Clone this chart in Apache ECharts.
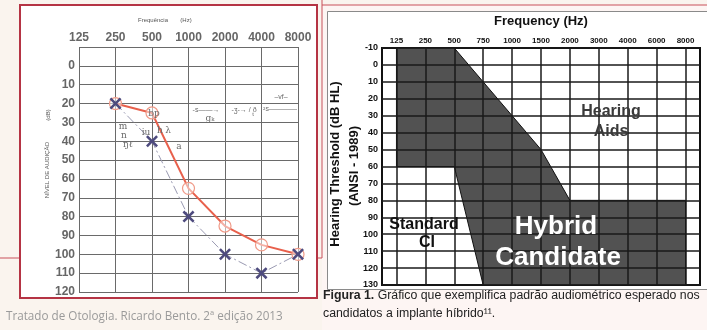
<!DOCTYPE html>
<html><head><meta charset="utf-8">
<script src="https://cdn.jsdelivr.net/npm/echarts@6/dist/echarts.min.js"></script>
<style>html,body{margin:0;padding:0;background:#faf4ee}#c{width:707px;height:330px}</style>
</head><body><div id="c"></div>
<script>
// ---- Left audiogram (Tratado de Otologia) ----
const leftFreqs = ['125', '250', '500', '1000', '2000', '4000', '8000'];
const rightEarDb = ['-', 20, 25, 65, 85, 95, 100];   // red circles
const leftEarDb  = ['-', 20, 40, 80, 100, 110, 100]; // blue X
// ---- Right chart (Hybrid candidate) ----
const rightFreqs = ['125', '250', '500', '750', '1000', '1500', '2000', '3000', '4000', '6000', '8000'];
const regionFreq = ['125', '500', '1500', '2000', '8000', '8000', '750', '500', '125'];
const regionDb   = [-10, -10, 50, 80, 80, 130, 130, 60, 60];

const chart = echarts.init(document.getElementById('c'), null, {renderer: 'canvas'});
const F = 'Liberation Sans, Arial, sans-serif';
const xSym = 'path://M0,1.5L1.5,0L5,3.5L8.5,0L10,1.5L6.5,5L10,8.5L8.5,10L5,6.5L1.5,10L0,8.5L3.5,5Z';

function txt(x, y, text, font, fill, extra) {
  return Object.assign({
    type: 'text', x: x, y: y, z: 20, silent: true,
    style: {text: text, font: font, fill: fill, align: 'center', verticalAlign: 'middle',
            textAlign: 'center', textVerticalAlign: 'middle'}
  }, extra || {});
}
function ltxt(x, y, text, font, fill, rich) {
  return {type: 'text', x: x, y: y, z: 20, silent: true,
    style: {text: text, font: font, fill: fill, rich: rich, align: 'left', verticalAlign: 'middle',
            textAlign: 'left', textVerticalAlign: 'middle'}};
}
const ann = '9px DejaVu Serif, serif';
const annC = '#6a6a6a';

chart.setOption({
  animation: false,
  backgroundColor: '#faf4ee',
  grid: [
    {left: 79, top: 47, width: 219, height: 245},
    {left: 382, top: 48, width: 318, height: 237, show: true, borderColor: '#111', borderWidth: 2}
  ],
  xAxis: [
    {type: 'category', gridIndex: 0, data: leftFreqs, boundaryGap: false, position: 'top',
     axisLine: {show: false}, axisTick: {show: false},
     axisLabel: {interval: 0, fontSize: 12, fontWeight: 'bold', color: '#666', margin: 3, fontFamily: F},
     splitLine: {show: true, lineStyle: {color: '#6a6a6a', width: 1}}},
    {type: 'category', gridIndex: 1, data: rightFreqs, boundaryGap: true, position: 'top',
     axisLine: {show: false}, axisTick: {show: false},
     axisLabel: {interval: 0, fontSize: 8, fontWeight: 'bold', color: '#111', margin: 3, fontFamily: F},
     splitLine: {show: false}}
  ],
  yAxis: [
    {type: 'value', gridIndex: 0, inverse: true, min: -10, max: 120, interval: 10,
     axisLine: {show: false}, axisTick: {show: false},
     axisLabel: {fontSize: 12, fontWeight: 'bold', color: '#666', margin: 4, fontFamily: F,
                 formatter: v => (v < 0 ? '' : v)},
     splitLine: {show: true, lineStyle: {color: '#6a6a6a', width: 1}}},
    {type: 'value', gridIndex: 1, inverse: true, min: -10, max: 130, interval: 10, z: 6,
     axisLine: {show: false}, axisTick: {show: false},
     axisLabel: {fontSize: 9, fontWeight: 'bold', color: '#111', margin: 4, fontFamily: F},
     splitLine: {show: true, lineStyle: {color: '#1a1a1a', width: 1.5}}}
  ],
  series: [
    {type: 'line', xAxisIndex: 0, yAxisIndex: 0, data: rightEarDb, z: 3,
     symbol: 'circle', symbolSize: 12,
     lineStyle: {color: '#e8604c', width: 2},
     itemStyle: {color: 'rgba(255,255,255,0.5)', borderColor: '#f09a88', borderWidth: 1.2}},
    {type: 'line', xAxisIndex: 0, yAxisIndex: 0, data: leftEarDb, z: 4,
     symbol: xSym, symbolSize: 12,
     lineStyle: {color: '#9a9ab2', width: 1, type: [9, 3, 2, 3]},
     itemStyle: {color: '#4e4b7e'}},
    {type: 'custom', xAxisIndex: 1, yAxisIndex: 1, data: [0], z: 3,
     renderItem: function (params, api) {
       const pts = regionFreq.map((f, i) => api.coord([rightFreqs.indexOf(f), regionDb[i]]));
       return {type: 'polygon', shape: {points: pts},
               style: {fill: '#525252', stroke: '#111', lineWidth: 1}};
     },
     markLine: {silent: true, symbol: ['none', 'none'], label: {show: false},
                lineStyle: {color: '#1a1a1a', width: 1.5, type: 'solid'},
                data: rightFreqs.map(f => ({xAxis: f}))}}
  ],
  graphic: [
    // backgrounds & frames
    {type: 'rect', z: -10, silent: true, shape: {x: 322, y: 5, width: 390, height: 330}, style: {fill: '#fdf5f3'}},
    {type: 'line', z: -9, silent: true, shape: {x1: 0, y1: 258, x2: 322, y2: 258}, style: {stroke: '#c9505a', lineWidth: 1}},
    {type: 'line', z: -9, silent: true, shape: {x1: 322, y1: 0, x2: 322, y2: 258}, style: {stroke: '#c9505a', lineWidth: 1}},
    {type: 'line', z: -9, silent: true, shape: {x1: 322, y1: 5, x2: 707, y2: 5}, style: {stroke: '#c9505a', lineWidth: 1}},
    {type: 'rect', z: -8, silent: true, shape: {x: 20, y: 5, width: 297, height: 293}, style: {fill: '#fff', stroke: '#b53444', lineWidth: 2}},
    {type: 'rect', z: -8, silent: true, shape: {x: 327.5, y: 11.5, width: 385, height: 278}, style: {fill: '#fff', stroke: '#8a8a8a', lineWidth: 1}},
    // left chart texts
    txt(153, 20, 'Frequência', '6px ' + F, '#555'),
    txt(186, 20, '(Hz)', '6px ' + F, '#555'),
    txt(47, 170, 'NÍVEL DE AUDIÇÃO', '6px ' + F, '#555', {rotation: Math.PI / 2}),
    txt(48, 115, '(dB)', '6px ' + F, '#555', {rotation: Math.PI / 2}),
    ltxt(6, 317, 'Tratado de Otologia. Ricardo Bento. 2ª edição 2013', '11.7px Open Sans, sans-serif', '#9a9a9a'),
    // speech-sound annotations
    txt(123, 127, 'm', ann, annC), txt(124, 136, 'n', ann, annC), txt(128, 145, 'ŋℓ', ann, annC),
    txt(146, 133, 'iu', ann, annC), txt(154, 114, 'bp', ann, annC),
    txt(160, 131, 'h', ann, annC), txt(168, 131, 'λ', ann, annC), txt(179, 147, 'a', ann, annC),
    txt(206, 110, '-s——→', '7px ' + F, annC), txt(210, 119, 'gₖ', ann, annC),
    txt(244, 110, '-ʒ-→ / ð', '7px ' + F, annC), txt(253, 114, 't', '6px ' + F, annC),
    txt(280, 109, '²s————', '7px ' + F, annC), txt(281, 97, '–vf–', '7px ' + F, annC),
    // right chart texts
    txt(541, 21, 'Frequency (Hz)', 'bold 13px ' + F, '#111'),
    txt(335, 164, 'Hearing Threshold (dB HL)', 'bold 13px ' + F, '#111', {rotation: Math.PI / 2}),
    txt(354, 166, '(ANSI - 1989)', 'bold 13px ' + F, '#111', {rotation: Math.PI / 2}),
    txt(611, 112, 'Hearing', 'bold 16px ' + F, '#3a3a3a'),
    txt(611, 132, 'Aids', 'bold 16px ' + F, '#3a3a3a'),
    txt(424, 225, 'Standard', 'bold 16px ' + F, '#111'),
    txt(427, 243, 'CI', 'bold 16px ' + F, '#111'),
    txt(556, 227, 'Hybrid', 'bold 26px ' + F, '#fff'),
    txt(558, 258, 'Candidate', 'bold 26px ' + F, '#fff'),
    ltxt(323, 296, '{b|Figura 1.} Gráfico que exemplifica padrão audiométrico esperado nos', '12.3px ' + F, '#222',
         {b: {fontWeight: 'bold', fontSize: 12.3, fontFamily: F, fill: '#222'}}),
    ltxt(323, 314, 'candidatos a implante híbrido¹¹.', '12.3px ' + F, '#222')
  ]
});
</script></body></html>
